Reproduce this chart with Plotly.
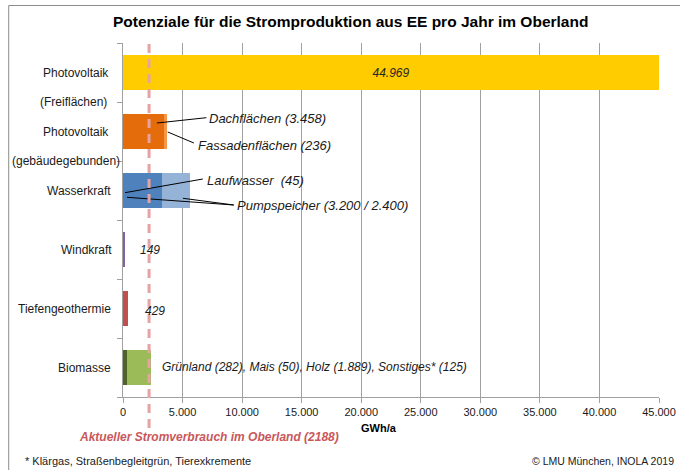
import plotly.graph_objects as go

# ---------------- data ----------------
categories = ["Photovoltaik (Freiflächen)", "Photovoltaik (gebäudegebunden)",
              "Wasserkraft", "Windkraft", "Tiefengeothermie", "Biomasse"]
cat_line1 = ["Photovoltaik", "Photovoltaik", "Wasserkraft", "Windkraft", "Tiefengeothermie", "Biomasse"]
cat_line2 = ["(Freiflächen)", "(gebäudegebunden)", "", "", "", ""]

pv_frei = 44969
pv_dach = 3458
pv_fassade = 236
wasser_lauf = 45
wasser_pump = [3200, 2400]
wind = 149
geothermie = 429
bio_gruenland = 282
bio_mais = 50
bio_holz = 1889
bio_sonstiges = 125
verbrauch = 2188

x_ticks = [0, 5000, 10000, 15000, 20000, 25000, 30000, 35000, 40000, 45000]

def de(n):
    return f"{n:,}".replace(",", ".")

# segments: (row, value, color)
segments = [
    (0, pv_frei, "#FFCC00"),
    (1, pv_dach, "#E46C0A"),
    (1, pv_fassade, "#F79646"),
    (2, wasser_lauf, "#4F81BD"),
    (2, wasser_pump[0], "#4F81BD"),
    (2, wasser_pump[1], "#95B3D7"),
    (3, wind, "#8064A2"),
    (4, geothermie, "#C0504D"),
    (5, bio_gruenland, "#4F6228"),
    (5, bio_mais, "#4F6228"),
    (5, bio_holz, "#9BBB59"),
    (5, bio_sonstiges, "#9BBB59"),
]

fig = go.Figure()
for row, val, col in segments:
    kw = {}
    if row == 0:
        kw = dict(text=[de(val)], textposition="inside", insidetextanchor="middle",
                  textfont=dict(family="Liberation Sans, Arial", size=12, color="#262626", style="italic"))
    fig.add_trace(go.Bar(x=[val], y=[row], orientation="h", width=0.58,
                         marker=dict(color=col, line=dict(width=0)), hoverinfo="skip", **kw))

FONT = "Liberation Sans, Arial, sans-serif"

# horizontal compensation for the capture (rendered canvas is squeezed to 680 px)
W = 688
SX = W / 680.0

# pixel geometry of the plot area (in reference pixels)
PL, PR, PT, PB = 122, 659, 43, 397
def px(xp):
    return (xp - PL) / (PR - PL)
def py(yp):
    return (PB - yp) / (PB - PT)

ann = []
# category labels
label_shift = [-12, -12, -10, -9, -10, -10]
label2_shift = [-14, -1]
for i, (l1, l2) in enumerate(zip(cat_line1, cat_line2)):
    ann.append(dict(text=l1, xref="paper", x=0, xshift=label_shift[i] * SX, xanchor="right",
                    yref="y", y=i, yanchor="middle", showarrow=False,
                    font=dict(family=FONT, size=12, color="#1a1a1a")))
    if l2:
        ann.append(dict(text=l2, xref="paper", x=0, xshift=label2_shift[i] * SX, xanchor="right",
                        yref="y", y=i + 0.5, yanchor="middle", showarrow=False,
                        font=dict(family=FONT, size=12, color="#1a1a1a")))

# segment labels: (text, x, y, font size)
seg_labels = [
    (f"Dachflächen ({de(pv_dach)})", 7040, 0.78, 13),
    (f"Fassadenflächen ({de(pv_fassade)})", 6120, 1.24, 13),
    (f"Laufwasser  ({de(wasser_lauf)})", 6870, 1.83, 13),
    (f"Pumpspeicher ({de(wasser_pump[0])} / {de(wasser_pump[1])})", 9390, 2.25, 13),
    (de(wind), 1260, 3.0, 12),
    (de(geothermie), 1680, 4.04, 12),
    (f"Grünland ({de(bio_gruenland)}), Mais ({de(bio_mais)}), Holz ({de(bio_holz)}), Sonstiges* ({de(bio_sonstiges)})", 3100, 4.99, 12),
]
for t, x, y, s in seg_labels:
    ann.append(dict(text=t, xref="x", x=x, xanchor="left", yref="y", y=y, yanchor="middle",
                    showarrow=False, font=dict(family=FONT, size=s, color="#1a1a1a", style="italic")))

# title
ann.append(dict(text="<b>Potenziale für die Stromproduktion aus EE pro Jahr im Oberland</b>",
                xref="paper", x=px(350), xanchor="center",
                yref="paper", y=py(22), yanchor="middle", showarrow=False,
                font=dict(family=FONT, size=15.5, color="#000000")))
# axis title
ann.append(dict(text="<b>GWh/a</b>", xref="paper", x=px(378), xanchor="center",
                yref="paper", y=py(428), yanchor="middle", showarrow=False,
                font=dict(family=FONT, size=11, color="#000000")))
# consumption text
ann.append(dict(text=f"<b><i>Aktueller Stromverbrauch im Oberland ({verbrauch})</i></b>",
                xref="paper", x=px(76), xanchor="left",
                yref="paper", y=py(437), yanchor="middle", showarrow=False,
                font=dict(family=FONT, size=12, color="#C9575A")))
# footers
ann.append(dict(text="* Klärgas, Straßenbegleitgrün, Tierexkremente",
                xref="paper", x=px(22), xanchor="left",
                yref="paper", y=py(461), yanchor="middle", showarrow=False,
                font=dict(family=FONT, size=11, color="#1a1a1a")))
ann.append(dict(text="© LMU München, INOLA 2019",
                xref="paper", x=px(676), xanchor="right",
                yref="paper", y=py(461), yanchor="middle", showarrow=False,
                font=dict(family=FONT, size=10.5, color="#1a1a1a")))

shapes = []
# leader lines
leaders = [
    (2850, 0.856, 7000, 0.766),
    (3694 + 60, 1.008, 5950, 1.195),
    (170, 2.037, 6700, 1.805),
    (335, 2.115, 9300, 2.246),
    (5030, 2.132, 9300, 2.246),
]
for x0, y0, x1, y1 in leaders:
    shapes.append(dict(type="line", xref="x", yref="y", x0=x0, y0=y0, x1=x1, y1=y1,
                       line=dict(color="#000000", width=1)))
# consumption dashed line
shapes.append(dict(type="line", xref="x", x0=verbrauch, x1=verbrauch,
                   yref="paper", y0=py(428), y1=1,
                   line=dict(color="#E6A3A3", width=3, dash="9px,6px"), layer="above"))
# outer frame (left and top edges)
shapes.append(dict(type="line", xref="paper", yref="paper",
                   x0=px(7.5), x1=px(7.5), y0=py(480), y1=py(5.5),
                   line=dict(color="#8C8C8C", width=1)))
shapes.append(dict(type="line", xref="paper", yref="paper",
                   x0=px(7.5), x1=px(700), y0=py(5.5), y1=py(5.5),
                   line=dict(color="#8C8C8C", width=1)))

fig.update_layout(
    width=W, height=470,
    margin=dict(l=PL * SX, r=(680 - PR) * SX, t=PT, b=470 - PB),
    barmode="stack", bargap=0,
    showlegend=False,
    paper_bgcolor="white", plot_bgcolor="white",
    separators=",.",
    font=dict(family=FONT, size=11, color="#1a1a1a"),
    annotations=ann, shapes=shapes,
    xaxis=dict(range=[0, 45000], tickvals=x_ticks, tickformat=",d",
               showgrid=True, gridcolor="#A0A0A0", gridwidth=1, zeroline=False,
               showline=True, linecolor="#A0A0A0", ticks="outside", ticklen=5,
               tickcolor="#A0A0A0", tickfont=dict(family=FONT, size=11, color="#1a1a1a")),
    yaxis=dict(range=[5.5, -0.5], tickvals=[-0.5, 0.5, 1.5, 2.5, 3.5, 4.5, 5.5],
               ticktext=[""] * 7, showgrid=False, zeroline=False,
               showline=True, linecolor="#A0A0A0", ticks="outside", ticklen=5,
               tickcolor="#A0A0A0"),
)

fig.write_html("out.html", config={"displayModeBar": False},
               post_script="document.body.style.margin='0';document.body.style.overflow='hidden';")
